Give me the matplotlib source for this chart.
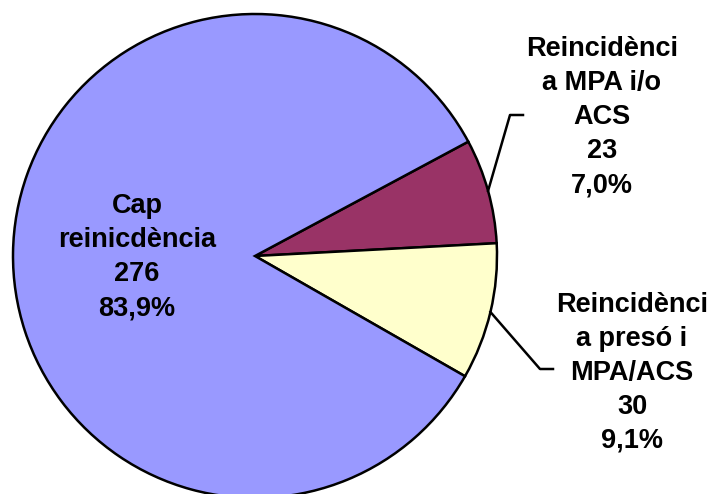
import matplotlib.pyplot as plt
import numpy as np

labels = ['Reincidènci\na MPA i/o\nACS', 'Reincidènci\na presó i\nMPA/ACS', 'Cap\nreinicdència']
counts = [23, 30, 276]
pcts = ['7,0%', '9,1%', '83,9%']
colors = ['#993366', '#FFFFCC', '#9999FF']

plt.rcParams['font.family'] = ['Liberation Sans', 'DejaVu Sans']

W, H = 709, 494
cx, cy, R = 255, 256, 242

fig = plt.figure(figsize=(W / 100, H / 100), dpi=100)
ax = fig.add_axes([0, 0, 1, 1])

wedges, _ = ax.pie(counts, colors=colors, startangle=28.2, counterclock=False,
                   radius=1, wedgeprops=dict(edgecolor='black', linewidth=1.8))

# pie() resets the limits, so set them afterwards
ax.set_xlim(-cx / R, (W - cx) / R)
ax.set_ylim(-(H - cy) / R, cy / R)
ax.set_aspect('equal')
ax.axis('off')


def px(x, y):
    return (x - cx) / R, (cy - y) / R


txt = dict(ha='center', va='center', fontsize=19.5, fontweight='bold', linespacing=1.4)

# label positions (pixel centres) and leader elbows
label_pos = [(602, 117), (632, 373), (137, 257)]
elbows = [((510, 115), (523, 115)), ((540, 369), (553, 369))]

for i, w in enumerate(wedges):
    x, y = px(*label_pos[i])
    ax.text(x, y, f'{labels[i]}\n{counts[i]}\n{pcts[i]}', **txt)
    if i < 2:
        mid = np.deg2rad((w.theta1 + w.theta2) / 2)
        xs = [np.cos(mid)] + [px(*p)[0] for p in elbows[i]]
        ys = [np.sin(mid)] + [px(*p)[1] for p in elbows[i]]
        ax.plot(xs, ys, color='black', lw=1.8)

fig.savefig('out.png', dpi=100)
